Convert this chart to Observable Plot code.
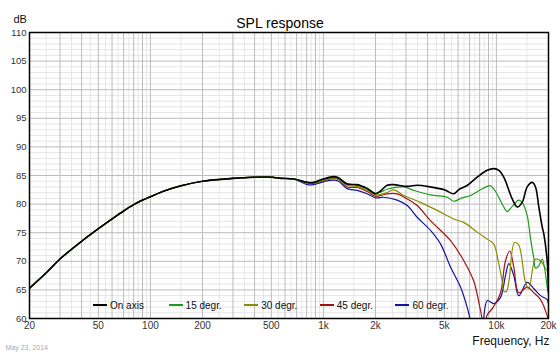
<!DOCTYPE html>
<html>
<head>
<meta charset="utf-8">
<script src="https://cdn.jsdelivr.net/npm/d3@7"></script>
<script src="https://cdn.jsdelivr.net/npm/@observablehq/plot@0.6"></script>
<style>
  html, body { margin: 0; padding: 0; background: #fff; }
  #wrap { position: relative; width: 560px; height: 356px; font-family: "Liberation Sans", Arial, sans-serif; }
  #legend { position: absolute; left: 0; top: 299px; height: 14px; width: 560px; }
  .entry { position: absolute; top: 0; font-size: 10px; line-height: 14px; color: #111; white-space: nowrap; }
  .sw { display: inline-block; width: 14px; height: 2px; vertical-align: middle; margin-right: 3px; position: relative; top: -1px; }
</style>
</head>
<body>
<div id="wrap"></div>
<script>
// ---- data (frequency in Hz, level in dB) ----
// common low-frequency part (all curves coincide there)
const lowFreq = [20, 25, 30, 40, 50, 60, 70, 80, 90, 100, 120, 150, 200, 300, 400, 500, 565, 672];
const lowDb   = [65.3, 68.0, 70.4, 73.5, 75.7, 77.4, 78.8, 79.9, 80.7, 81.3, 82.3, 83.2, 84.0, 84.5, 84.7, 84.7, 84.5, 84.4];

const onAxisFreq = [806, 876, 1000, 1144, 1222, 1372, 1568, 1790, 2000, 2138, 2337, 2541, 3050, 3482, 4160, 5000, 5670, 6040, 6770, 7740, 8845, 9660, 10330, 11030, 12340, 13190, 14090, 15060, 16100, 16820, 17580, 18390, 18790, 19660, 20000];
const onAxisDb   = [83.8, 83.8, 84.4, 84.8, 84.6, 83.5, 83.4, 82.7, 81.8, 82.3, 83.3, 83.4, 83.1, 83.3, 83.0, 82.5, 81.8, 82.5, 83.25, 84.7, 85.9, 86.2, 85.9, 84.7, 80.9, 79.5, 80.3, 83.0, 83.8, 83.0, 79.5, 76.0, 74.8, 70.0, 64.5];

const deg15Freq = [806, 876, 1000, 1144, 1222, 1372, 1568, 1790, 2000, 2138, 2337, 2914, 3330, 4160, 5194, 5670, 6340, 7080, 8090, 8845, 9240, 9880, 10800, 11540, 12340, 13470, 14090, 15060, 15740, 16450, 16820, 17580, 18390, 19060, 19660, 20000];
const deg15Db   = [83.8, 83.7, 84.3, 84.7, 84.5, 83.6, 83.3, 82.8, 81.9, 82.1, 82.6, 83.0, 82.4, 81.6, 81.2, 80.5, 81.1, 81.5, 82.5, 83.1, 83.2, 82.2, 80.0, 78.7, 79.6, 80.7, 80.3, 78.0, 74.0, 70.5, 68.8, 69.2, 70.4, 68.5, 65.5, 64.5];

const deg30Freq = [806, 876, 1000, 1144, 1222, 1372, 1568, 1790, 2000, 2138, 2337, 2553, 2914, 3640, 4545, 5670, 6477, 7740, 9033, 9660, 10330, 10800, 11030, 11400, 11790, 12720, 13470, 14720, 15380, 16820, 17980, 19660, 20000];
const deg30Db   = [83.8, 83.7, 84.2, 84.6, 84.4, 83.3, 83.1, 82.4, 81.6, 81.7, 82.0, 82.5, 81.5, 80.3, 78.9, 77.4, 76.8, 75.1, 73.7, 73.0, 69.5, 66.5, 64.8, 64.7, 66.3, 73.3, 72.8, 66.3, 65.2, 70.4, 70.1, 68.4, 70.0];

const deg45Freq = [806, 876, 1000, 1144, 1222, 1372, 1568, 1790, 2000, 2138, 2337, 2668, 3050, 3482, 4160, 5428, 6477, 7400, 8090, 8500, 8845, 9600, 10560, 11280, 11940, 12600, 13470, 15060, 16450, 17980, 19660, 20000];
const deg45Db   = [83.7, 83.6, 84.1, 84.5, 84.3, 83.0, 82.9, 82.2, 81.4, 81.5, 81.8, 81.8, 80.9, 79.75, 77.1, 73.6, 70.1, 66.5, 61.4, 58.5, 60.6, 62.0, 64.5, 70.1, 71.8, 69.0, 64.5, 65.5, 64.5, 63.3, 60.5, 59.5];

const deg60Freq = [806, 876, 1000, 1144, 1222, 1372, 1568, 1790, 2000, 2224, 2668, 3050, 3482, 4160, 4750, 5428, 6200, 6770, 7080, 7400, 8090, 8845, 9660, 10560, 11280, 11790, 12600, 13470, 15060, 16450, 17980, 19660, 20000];
const deg60Db   = [83.4, 83.4, 83.9, 84.2, 84.0, 82.7, 82.4, 81.8, 81.1, 81.2, 80.7, 79.75, 77.7, 75.4, 73.05, 69.0, 65.5, 62.0, 59.7, 57.5, 57.5, 63.1, 62.6, 63.7, 67.5, 69.6, 67.5, 64.0, 66.3, 65.2, 64.0, 63.3, 62.5];

const seriesNames  = ["On axis", "15 degr.", "30 degr.", "45 degr.", "60 degr."];
const seriesColors = ["#000000", "#1e9a1e", "#8c8c00", "#a01414", "#1414a0"];
const seriesFreqs  = [onAxisFreq, deg15Freq, deg30Freq, deg45Freq, deg60Freq];
const seriesDbs    = [onAxisDb, deg15Db, deg30Db, deg45Db, deg60Db];

const xTicks = [20, 50, 100, 200, 500, 1000, 2000, 5000, 10000, 20000];
const xTickLabels = ["20", "50", "100", "200", "500", "1k", "2k", "5k", "10k", "20k"];
const yTicks = [60, 65, 70, 75, 80, 85, 90, 95, 100, 105, 110];

// ---- build tables ----
const rows = [];
seriesNames.forEach((name, i) => {
  const f = lowFreq.concat(seriesFreqs[i]);
  const v = lowDb.concat(seriesDbs[i]);
  f.forEach((fr, j) => rows.push({series: name, freq: fr, db: v[j]}));
});
const xTickTable = xTicks.map((t, i) => ({freq: t, label: xTickLabels[i]}));

// grid positions
const majorX = [], minorX = [];
for (const dec of [10, 100, 1000, 10000]) {
  for (let k = 1; k <= 9; k++) {
    const m = k * dec, h = (k + 0.5) * dec;
    if (m > 20 && m < 20000) majorX.push(m);
    if (h > 20 && h < 20000) minorX.push(h);
  }
}
const majorY = d3.range(65, 110, 5);
const minorY = d3.range(61, 110, 1).filter(d => d % 5 !== 0);

const font = "Liberation Sans, Arial, sans-serif";
const drawOrder = [4, 3, 2, 1, 0];

const plot = Plot.plot({
  width: 560,
  height: 356,
  marginLeft: 29,
  marginRight: 12,
  marginTop: 32,
  marginBottom: 38,
  style: {fontFamily: font, background: "#fff", color: "#222"},
  x: {type: "log", domain: [20, 20000], axis: null},
  y: {domain: [60, 110], axis: null},
  marks: [
    Plot.ruleX(minorX, {stroke: "#e6e6e6", strokeWidth: 1}),
    Plot.ruleY(minorY, {stroke: "#e6e6e6", strokeWidth: 1}),
    Plot.ruleX(majorX, {stroke: "#bcbcbc", strokeWidth: 1}),
    Plot.ruleY(majorY, {stroke: "#bcbcbc", strokeWidth: 1}),
    ...drawOrder.map(i => Plot.line(rows.filter(r => r.series === seriesNames[i]), {
      x: "freq", y: "db", stroke: seriesColors[i],
      strokeWidth: i === 0 ? 1.6 : 1.2,
      curve: "catmull-rom", clip: true
    })),
    Plot.frame({stroke: "#000", strokeWidth: 1.5}),
    Plot.text(yTicks, {y: d => d, frameAnchor: "left", textAnchor: "end", dx: -3, fontSize: 9.5, fill: "#333"}),
    Plot.text(xTickTable, {x: "freq", text: "label", frameAnchor: "bottom", dy: 10, fontSize: 10, fill: "#333"}),
    Plot.text(["SPL response"], {frameAnchor: "top", dy: -14, fontSize: 14, fill: "#000", dx: -9}),
    Plot.text(["dB"], {frameAnchor: "top-left", textAnchor: "start", dx: -16, dy: -17, fontSize: 11, fill: "#111"}),
    Plot.text(["Frequency, Hz"], {frameAnchor: "bottom-right", textAnchor: "end", dx: 1, dy: 26, fontSize: 12, fill: "#111"}),
    Plot.text(["May 23, 2014"], {frameAnchor: "bottom-left", textAnchor: "start", dx: -24, dy: 31, fontSize: 7, fill: "#aaa"})
  ]
});

const wrap = document.getElementById("wrap");
wrap.appendChild(plot);

const legend = document.createElement("div");
legend.id = "legend";
seriesNames.forEach((name, i) => {
  const e = document.createElement("div");
  e.className = "entry";
  e.style.left = (93 + 75.6 * i) + "px";
  const sw = document.createElement("span");
  sw.className = "sw";
  sw.style.background = seriesColors[i];
  e.appendChild(sw);
  e.appendChild(document.createTextNode(name));
  legend.appendChild(e);
});
wrap.appendChild(legend);
</script>
</body>
</html>
